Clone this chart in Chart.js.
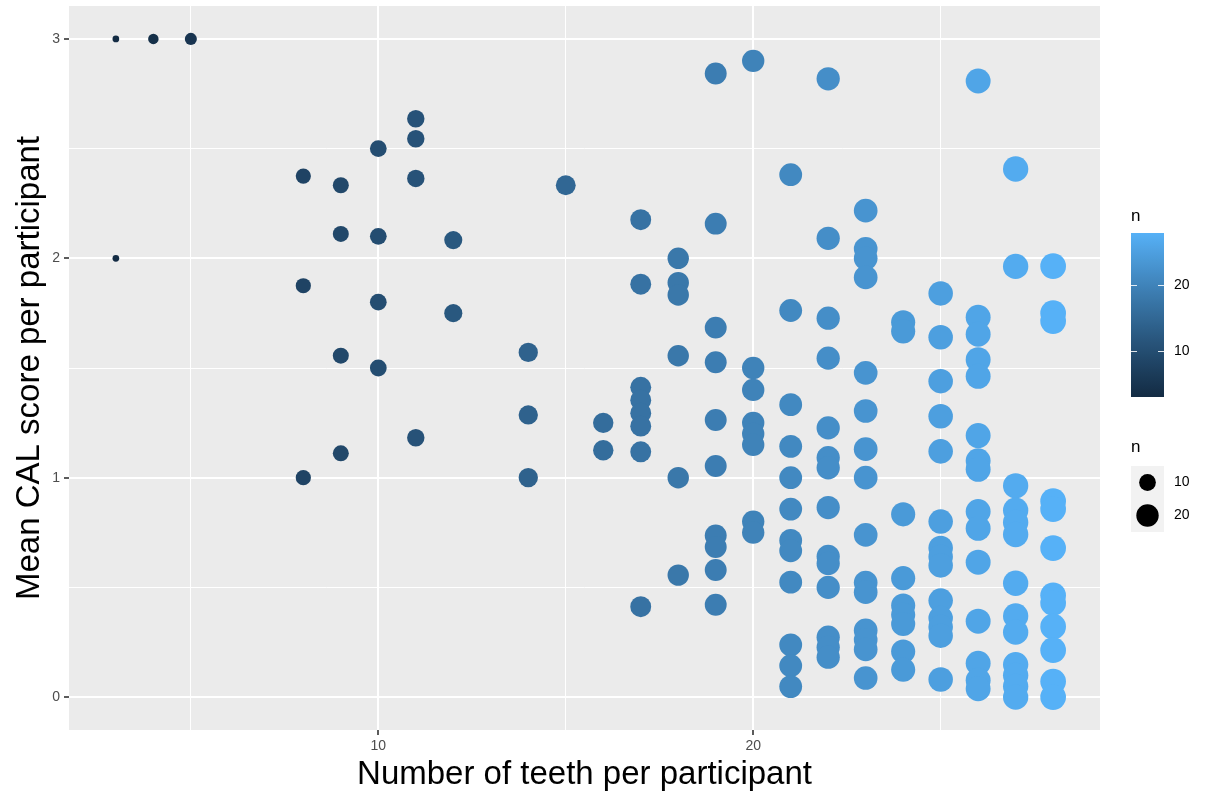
<!DOCTYPE html>
<html>
<head>
<meta charset="utf-8">
<script src="https://cdn.jsdelivr.net/npm/chart.js@4.4.1/dist/chart.umd.min.js"></script>
<style>
  html, body { margin: 0; padding: 0; background: #ffffff; }
  canvas { display: block; }
</style>
</head>
<body>
<canvas id="c" width="1206" height="797"></canvas>
<script>
// Number of teeth per participant (also the "n" shown by colour and size)
const teethCounts = [3, 4, 5, 8, 9, 10, 11, 12, 14, 15, 16, 17, 18, 19, 20, 21, 22, 23, 24, 25, 26, 27, 28];

// Mean CAL score of every participant, grouped by their number of teeth
const meanCalByTeeth = [
  [3.0, 2.0],
  [3.0],
  [3.0],
  [2.375, 1.875, 1.0],
  [2.333, 2.111, 1.556, 1.111],
  [2.5, 2.1, 1.8, 1.5],
  [2.636, 2.545, 2.364, 1.182],
  [2.083, 1.75],
  [1.571, 1.286, 1.0],
  [2.333],
  [1.25, 1.125],
  [2.176, 1.882, 1.412, 1.353, 1.294, 1.235, 1.118, 0.412],
  [2.0, 1.889, 1.833, 1.556, 1.0, 0.556],
  [2.842, 2.158, 1.684, 1.526, 1.263, 1.053, 0.737, 0.684, 0.579, 0.421],
  [2.9, 1.5, 1.4, 1.25, 1.2, 1.15, 0.8, 0.75],
  [2.381, 1.762, 1.333, 1.143, 1.0, 0.857, 0.714, 0.667, 0.524, 0.238, 0.143, 0.048],
  [2.818, 2.091, 1.727, 1.545, 1.227, 1.091, 1.045, 0.864, 0.641, 0.609, 0.5, 0.273, 0.227, 0.182],
  [2.217, 2.043, 2.0, 1.913, 1.478, 1.304, 1.130, 1.0, 0.739, 0.522, 0.478, 0.304, 0.261, 0.217, 0.087],
  [1.708, 1.667, 0.833, 0.542, 0.417, 0.375, 0.333, 0.208, 0.125],
  [1.84, 1.64, 1.44, 1.28, 1.12, 0.8, 0.68, 0.64, 0.6, 0.44, 0.36, 0.32, 0.28, 0.08],
  [2.808, 1.731, 1.654, 1.538, 1.462, 1.192, 1.077, 1.038, 0.846, 0.769, 0.615, 0.346, 0.154, 0.077, 0.038],
  [2.407, 1.963, 0.963, 0.852, 0.796, 0.741, 0.519, 0.370, 0.296, 0.148, 0.099, 0.049, 0.0],
  [1.964, 1.75, 1.714, 0.893, 0.857, 0.679, 0.464, 0.429, 0.321, 0.214, 0.071, 0.0]
];

// Axis breaks and legend breaks
const xBreaks = [10, 20];
const xMinorBreaks = [5, 15, 25];
const yBreaks = [0, 1, 2, 3];
const yMinorBreaks = [0.5, 1.5, 2.5];
const legendBreaks = [10, 20];
const nLimits = [3, 28];

const xTitle = 'Number of teeth per participant';
const yTitle = 'Mean CAL score per participant';
const legendTitle = 'n';

// ---- colour ramp (CIELAB interpolation between two end colours) ----
const lowColour = '#132B43';
const highColour = '#56B1F7';

function hexToRgb(h) {
  const v = parseInt(h.slice(1), 16);
  return [(v >> 16) & 255, (v >> 8) & 255, v & 255];
}
function toLinear(c) { c /= 255; return c <= 0.04045 ? c / 12.92 : Math.pow((c + 0.055) / 1.055, 2.4); }
function fromLinear(c) {
  const v = c <= 0.0031308 ? 12.92 * c : 1.055 * Math.pow(c, 1 / 2.4) - 0.055;
  return Math.round(Math.max(0, Math.min(1, v)) * 255);
}
const WX = 0.95047, WY = 1.0, WZ = 1.08883;
function rgbToLab(rgb) {
  const [r, g, b] = rgb.map(toLinear);
  const X = 0.4124564 * r + 0.3575761 * g + 0.1804375 * b;
  const Y = 0.2126729 * r + 0.7151522 * g + 0.0721750 * b;
  const Z = 0.0193339 * r + 0.1191920 * g + 0.9503041 * b;
  const f = t => t > 0.008856 ? Math.cbrt(t) : 7.787 * t + 16 / 116;
  const fx = f(X / WX), fy = f(Y / WY), fz = f(Z / WZ);
  return [116 * fy - 16, 500 * (fx - fy), 200 * (fy - fz)];
}
function labToRgb(lab) {
  const [L, a, bb] = lab;
  const fy = (L + 16) / 116, fx = fy + a / 500, fz = fy - bb / 200;
  const inv = t => t * t * t > 0.008856 ? t * t * t : (t - 16 / 116) / 7.787;
  const X = inv(fx) * WX, Y = inv(fy) * WY, Z = inv(fz) * WZ;
  const r = 3.2404542 * X - 1.5371385 * Y - 0.4985314 * Z;
  const g = -0.9692660 * X + 1.8760108 * Y + 0.0415560 * Z;
  const b = 0.0556434 * X - 0.2040259 * Y + 1.0572252 * Z;
  return [fromLinear(r), fromLinear(g), fromLinear(b)];
}
const lowLab = rgbToLab(hexToRgb(lowColour));
const highLab = rgbToLab(hexToRgb(highColour));

function scaled(n) {
  return Math.max(0, Math.min(1, (n - nLimits[0]) / (nLimits[1] - nLimits[0])));
}
function colourFor(n) {
  const t = scaled(n);
  const lab = lowLab.map((v, i) => v + (highLab[i] - v) * t);
  const [r, g, b] = labToRgb(lab);
  return `rgb(${r},${g},${b})`;
}
// size scale: area-proportional between 1 and 6, converted to a pixel radius
function radiusFor(n) {
  const size = 1 + 5 * Math.sqrt(scaled(n));
  return (2.9 + 3.8 * size) / 2;
}

// ---- build the point list ----
const points = [];
teethCounts.forEach((teeth, i) => {
  meanCalByTeeth[i].forEach(v => points.push({ x: teeth, y: v, n: teeth }));
});

const FONT = "'Liberation Sans', Arial, Helvetica, sans-serif";
const PANEL = { left: 69, right: 1100, top: 6, bottom: 730 };

// panel background
const panelBackground = {
  id: 'panelBackground',
  beforeDraw(chart) {
    const { ctx, chartArea: a } = chart;
    ctx.save();
    ctx.fillStyle = '#ffffff';
    ctx.fillRect(0, 0, chart.width, chart.height);
    ctx.fillStyle = '#EBEBEB';
    ctx.fillRect(a.left, a.top, a.right - a.left, a.bottom - a.top);
    ctx.restore();
  }
};

// colour bar and size legend on the right
const guides = {
  id: 'guides',
  afterDraw(chart) {
    const ctx = chart.ctx;
    ctx.save();
    const barX = 1131, barW = 33, barTop = 233, barBottom = 397;
    const yOf = n => barBottom - scaled(n) * (barBottom - barTop);

    ctx.fillStyle = '#000000';
    ctx.font = `17px ${FONT}`;
    ctx.textAlign = 'left';
    ctx.textBaseline = 'middle';
    ctx.fillText(legendTitle, barX, 216);

    const grad = ctx.createLinearGradient(0, barBottom, 0, barTop);
    for (let k = 0; k <= 30; k++) {
      const t = k / 30;
      grad.addColorStop(t, colourFor(nLimits[0] + t * (nLimits[1] - nLimits[0])));
    }
    ctx.fillStyle = grad;
    ctx.fillRect(barX, barTop, barW, barBottom - barTop);

    ctx.strokeStyle = 'rgba(255,255,255,0.85)';
    ctx.lineWidth = 1;
    ctx.font = `14px ${FONT}`;
    legendBreaks.forEach(b => {
      const y = Math.round(yOf(b)) + 0.5;
      ctx.beginPath();
      ctx.moveTo(barX, y); ctx.lineTo(barX + 6, y);
      ctx.moveTo(barX + barW - 6, y); ctx.lineTo(barX + barW, y);
      ctx.stroke();
      ctx.fillStyle = '#000000';
      ctx.fillText(String(b), 1174, y);
    });

    // size legend
    ctx.font = `17px ${FONT}`;
    ctx.fillText(legendTitle, barX, 447);
    const keyTop = 466, keyH = 33;
    ctx.fillStyle = '#F2F2F2';
    ctx.fillRect(barX, keyTop, barW, keyH * legendBreaks.length);
    ctx.font = `14px ${FONT}`;
    legendBreaks.forEach((b, i) => {
      const cy = keyTop + keyH * i + keyH / 2;
      ctx.fillStyle = '#000000';
      ctx.beginPath();
      ctx.arc(barX + barW / 2, cy, radiusFor(b), 0, Math.PI * 2);
      ctx.fill();
      ctx.fillText(String(b), 1174, cy);
    });
    ctx.restore();
  }
};

function gridWidth(ctx, majors) {
  return majors.includes(ctx.tick.value) ? 2 : 1;
}
function tickColour(ctx, majors) {
  return majors.includes(ctx.tick.value) ? '#333333' : 'rgba(0,0,0,0)';
}

new Chart(document.getElementById('c'), {
  type: 'scatter',
  data: {
    datasets: [{
      data: points,
      pointRadius: c => radiusFor(c.raw.n),
      pointHoverRadius: c => radiusFor(c.raw.n),
      pointBackgroundColor: c => colourFor(c.raw.n),
      pointBorderWidth: 0,
      pointBorderColor: 'rgba(0,0,0,0)'
    }]
  },
  options: {
    responsive: false,
    animation: false,
    devicePixelRatio: 1,
    events: [],
    layout: {
      autoPadding: false,
      padding: { top: PANEL.top, right: 1206 - PANEL.right, left: 0, bottom: 0 }
    },
    plugins: { legend: { display: false }, tooltip: { enabled: false } },
    scales: {
      x: {
        type: 'linear',
        min: 1.75,
        max: 29.25,
        afterBuildTicks: s => { s.ticks = [...xMinorBreaks, ...xBreaks].sort((a, b) => a - b).map(v => ({ value: v })); },
        afterFit: s => { s.height = 797 - PANEL.bottom; s.paddingLeft = 0; s.paddingRight = 0; },
        border: { display: false },
        grid: {
          color: '#ffffff',
          lineWidth: c => gridWidth(c, xBreaks),
          tickColor: c => tickColour(c, xBreaks),
          tickLength: 5,
          tickWidth: 1.6
        },
        ticks: {
          autoSkip: false,
          maxRotation: 0,
          padding: 3,
          color: '#4D4D4D',
          font: { family: FONT, size: 14 },
          callback: v => xBreaks.includes(v) ? String(v) : ''
        },
        title: {
          display: true,
          text: xTitle,
          color: '#000000',
          font: { family: FONT, size: 33 },
          padding: { top: 0, bottom: 2 }
        }
      },
      y: {
        type: 'linear',
        min: -0.15,
        max: 3.15,
        afterBuildTicks: s => { s.ticks = [...yMinorBreaks, ...yBreaks].sort((a, b) => a - b).map(v => ({ value: v })); },
        afterFit: s => { s.width = PANEL.left; s.paddingTop = 0; s.paddingBottom = 0; },
        border: { display: false },
        grid: {
          color: '#ffffff',
          lineWidth: c => gridWidth(c, yBreaks),
          tickColor: c => tickColour(c, yBreaks),
          tickLength: 5,
          tickWidth: 1.6
        },
        ticks: {
          autoSkip: false,
          padding: 4,
          color: '#4D4D4D',
          font: { family: FONT, size: 14 },
          callback: v => yBreaks.includes(v) ? String(v) : ''
        },
        title: {
          display: true,
          text: yTitle,
          color: '#000000',
          font: { family: FONT, size: 33 },
          padding: { top: 10, bottom: 0 }
        }
      }
    }
  },
  plugins: [panelBackground, guides]
});
</script>
</body>
</html>
